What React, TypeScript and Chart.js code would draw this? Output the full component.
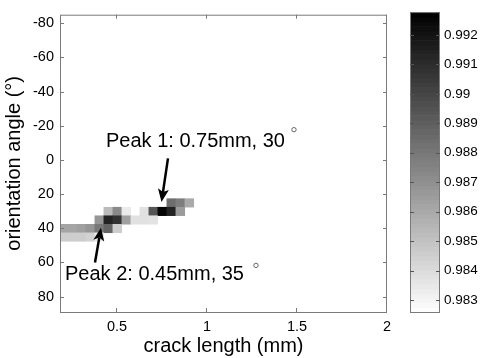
import React, { useEffect, useRef } from 'react';
import { Chart, registerables } from 'chart.js';

Chart.register(...registerables);

const FONT = '"Liberation Sans", Arial, Helvetica, sans-serif';

// Axis ticks
const xTicks = [0.5, 1, 1.5, 2];
const yTicks = [-80, -60, -40, -20, 0, 20, 40, 60, 80];
const cbTicks = [0.983, 0.984, 0.985, 0.986, 0.987, 0.988, 0.989, 0.99, 0.991, 0.992];

// Heat-map cells (crack length mm, orientation angle deg, value)
const cellLength = [
  0.8, 0.85, 0.9,
  0.45, 0.5, 0.55, 0.65, 0.7, 0.75, 0.8, 0.85,
  0.4, 0.45, 0.5, 0.55, 0.6, 0.65, 0.7,
  0.2, 0.25, 0.3, 0.35, 0.4, 0.45, 0.5,
  0.2, 0.25, 0.3, 0.35, 0.4,
];
const cellAngle = [
  25, 25, 25,
  30, 30, 30, 30, 30, 30, 30, 30,
  35, 35, 35, 35, 35, 35, 35,
  40, 40, 40, 40, 40, 40, 40,
  45, 45, 45, 45, 45,
];
const cellValue = [
  0.9884, 0.9878, 0.986,
  0.9853, 0.9873, 0.9834, 0.9838, 0.9894, 0.9926, 0.9914, 0.9866,
  0.9868, 0.9914, 0.9908, 0.9864, 0.9838, 0.9838, 0.9837,
  0.9862, 0.9862, 0.9864, 0.9868, 0.988, 0.9888, 0.9846,
  0.9846, 0.9846, 0.9846, 0.9844, 0.9834,
];

// Annotations
const peakLabels = ['Peak 1: 0.75mm, 30', 'Peak 2: 0.45mm, 35'];
const peakTextX = [0.4386, 0.2108];
const peakTextY = [-7.6, 70.2];
const peakDegX = [1.483, 1.272];
const peakDegY = [-17.7, 61.7];
const arrowTailX = [0.783, 0.3775];
const arrowTailY = [-0.9, 60.0];
const arrowHeadX = [0.747, 0.4108];
const arrowHeadY = [24.6, 39.7];

const X_MIN = 0.183;
const X_MAX = 2.0;
const Y_MIN = -85;
const Y_MAX = 89;
const CELL_W = 0.05;
const CELL_H = 5;
const C_MIN = 0.98259;
const C_MAX = 0.99278;
const AXIS_COLOR = '#7a7a7a';

function grayFor(v: number): string {
  let t = (C_MAX - v) / (C_MAX - C_MIN);
  t = Math.max(0, Math.min(1, t));
  const g = Math.round(255 * t);
  return `rgb(${g},${g},${g})`;
}

const heatmapPlugin = {
  id: 'heatmap',
  beforeDatasetsDraw(chart: any) {
    const { ctx, chartArea, scales } = chart;
    const x = scales.x;
    const y = scales.y;
    ctx.save();
    ctx.beginPath();
    ctx.rect(chartArea.left, chartArea.top, chartArea.right - chartArea.left, chartArea.bottom - chartArea.top);
    ctx.clip();
    for (let i = 0; i < cellValue.length; i++) {
      const x0 = x.getPixelForValue(cellLength[i] - CELL_W / 2);
      const x1 = x.getPixelForValue(cellLength[i] + CELL_W / 2);
      const y0 = y.getPixelForValue(cellAngle[i] - CELL_H / 2);
      const y1 = y.getPixelForValue(cellAngle[i] + CELL_H / 2);
      ctx.fillStyle = grayFor(cellValue[i]);
      ctx.fillRect(Math.min(x0, x1), Math.min(y0, y1), Math.abs(x1 - x0) + 0.5, Math.abs(y1 - y0) + 0.5);
    }
    ctx.restore();
  },
};

function drawArrow(ctx: CanvasRenderingContext2D, x0: number, y0: number, x1: number, y1: number) {
  const ang = Math.atan2(y1 - y0, x1 - x0);
  const headLen = 13;
  const headW = 5.5;
  const bx = x1 - headLen * Math.cos(ang);
  const by = y1 - headLen * Math.sin(ang);
  ctx.strokeStyle = '#000';
  ctx.fillStyle = '#000';
  ctx.lineWidth = 2.5;
  ctx.beginPath();
  ctx.moveTo(x0, y0);
  ctx.lineTo(bx + 3 * Math.cos(ang), by + 3 * Math.sin(ang));
  ctx.stroke();
  ctx.beginPath();
  ctx.moveTo(x1, y1);
  ctx.lineTo(bx + headW * Math.sin(ang), by - headW * Math.cos(ang));
  ctx.lineTo(bx + 3 * Math.cos(ang), by + 3 * Math.sin(ang));
  ctx.lineTo(bx - headW * Math.sin(ang), by + headW * Math.cos(ang));
  ctx.closePath();
  ctx.fill();
}

const framePlugin = {
  id: 'frame',
  afterDraw(chart: any) {
    const { ctx, chartArea, scales } = chart;
    const { left, right, top, bottom } = chartArea;
    const x = scales.x;
    const y = scales.y;
    ctx.save();
    ctx.strokeStyle = AXIS_COLOR;
    ctx.lineWidth = 1;
    ctx.strokeRect(left + 0.5, top + 0.5, right - left - 1, bottom - top);
    ctx.beginPath();
    for (const v of xTicks) {
      const p = Math.round(x.getPixelForValue(v)) - 0.5;
      ctx.moveTo(p, bottom);
      ctx.lineTo(p, bottom - 4);
      ctx.moveTo(p, top);
      ctx.lineTo(p, top + 4);
    }
    for (const v of yTicks) {
      const p = Math.round(y.getPixelForValue(v)) + 0.5;
      ctx.moveTo(left, p);
      ctx.lineTo(left + 4, p);
      ctx.moveTo(right, p);
      ctx.lineTo(right - 4, p);
    }
    ctx.stroke();

    // annotations
    ctx.font = `20px ${FONT}`;
    ctx.fillStyle = '#000';
    ctx.textBaseline = 'alphabetic';
    ctx.textAlign = 'left';
    for (let i = 0; i < peakLabels.length; i++) {
      ctx.fillStyle = '#000';
      ctx.fillText(peakLabels[i], x.getPixelForValue(peakTextX[i]), y.getPixelForValue(peakTextY[i]));
      ctx.beginPath();
      ctx.strokeStyle = '#666';
      ctx.lineWidth = 1;
      ctx.arc(x.getPixelForValue(peakDegX[i]), y.getPixelForValue(peakDegY[i]), 2.2, 0, Math.PI * 2);
      ctx.stroke();
      drawArrow(
        ctx,
        x.getPixelForValue(arrowTailX[i]),
        y.getPixelForValue(arrowTailY[i]),
        x.getPixelForValue(arrowHeadX[i]),
        y.getPixelForValue(arrowHeadY[i])
      );
    }
    ctx.restore();
  },
};

const colorbarPlugin = {
  id: 'colorbar',
  beforeDatasetsDraw(chart: any) {
    const { ctx, chartArea, scales } = chart;
    const { left, right } = chartArea;
    const y = scales.y;
    const yTop = y.getPixelForValue(C_MAX);
    const yBot = y.getPixelForValue(C_MIN);
    const n = 64;
    ctx.save();
    for (let i = 0; i < n; i++) {
      const v0 = C_MIN + ((C_MAX - C_MIN) * i) / n;
      const v1 = C_MIN + ((C_MAX - C_MIN) * (i + 1)) / n;
      const p0 = y.getPixelForValue(v0);
      const p1 = y.getPixelForValue(v1);
      const g = Math.round(255 * (1 - (i + 0.5) / n));
      ctx.fillStyle = `rgb(${g},${g},${g})`;
      ctx.fillRect(left, Math.min(p0, p1), right - left, Math.abs(p1 - p0) + 0.6);
    }
    ctx.strokeStyle = AXIS_COLOR;
    ctx.lineWidth = 1;
    ctx.strokeRect(left + 0.5, yTop + 0.5, right - left - 1, yBot - yTop);
    ctx.beginPath();
    for (const v of cbTicks) {
      const p = Math.round(y.getPixelForValue(v)) + 0.5;
      ctx.moveTo(left, p);
      ctx.lineTo(left + 4, p);
      ctx.moveTo(right, p);
      ctx.lineTo(right - 4, p);
    }
    ctx.strokeStyle = '#555';
    ctx.stroke();
    ctx.restore();
  },
};

export default function App() {
  const mainRef = useRef<HTMLCanvasElement | null>(null);
  const cbRef = useRef<HTMLCanvasElement | null>(null);

  useEffect(() => {
    if (!mainRef.current || !cbRef.current) return;
    const main = new Chart(mainRef.current, {
      type: 'scatter',
      data: { datasets: [] },
      plugins: [heatmapPlugin, framePlugin],
      options: {
        animation: false,
        responsive: false,
        devicePixelRatio: 1,
        layout: { padding: { left: 0, top: 12, right: 95, bottom: 0 } },
        plugins: { legend: { display: false }, tooltip: { enabled: false } },
        scales: {
          x: {
            type: 'linear',
            min: X_MIN,
            max: X_MAX,
            grid: { display: false, drawTicks: false },
            border: { display: false },
            afterBuildTicks: (s: any) => {
              s.ticks = xTicks.map((v) => ({ value: v }));
            },
            afterFit: (s: any) => {
              s.height = 46;
            },
            ticks: {
              padding: 6,
              color: '#000',
              font: { family: FONT, size: 14.5 },
              maxRotation: 0,
              autoSkip: false,
              callback: (v: any) => String(v),
            },
            title: {
              display: true,
              text: 'crack length (mm)',
              color: '#000',
              font: { family: FONT, size: 20 },
              padding: { top: 2, bottom: 0 },
            },
          },
          y: {
            type: 'linear',
            reverse: true,
            min: Y_MIN,
            max: Y_MAX,
            grid: { display: false, drawTicks: false },
            border: { display: false },
            afterBuildTicks: (s: any) => {
              s.ticks = yTicks.map((v) => ({ value: v }));
            },
            afterFit: (s: any) => {
              s.width = 60;
            },
            ticks: {
              padding: 6,
              color: '#000',
              font: { family: FONT, size: 14.5 },
              autoSkip: false,
              callback: (v: any) => String(v),
            },
            title: {
              display: true,
              text: 'orientation angle (°)',
              color: '#000',
              font: { family: FONT, size: 20 },
              padding: { top: 2, bottom: 0 },
            },
          },
        },
      },
    } as any);

    const cb = new Chart(cbRef.current, {
      type: 'scatter',
      data: { datasets: [] },
      plugins: [colorbarPlugin],
      options: {
        animation: false,
        responsive: false,
        devicePixelRatio: 1,
        layout: { padding: { left: 410, top: 12, right: 0, bottom: 46 } },
        plugins: { legend: { display: false }, tooltip: { enabled: false } },
        scales: {
          x: { type: 'linear', display: false, min: 0, max: 1 },
          y: {
            type: 'linear',
            position: 'right',
            min: C_MIN,
            max: C_MAX,
            grid: { display: false, drawTicks: false },
            border: { display: false },
            afterBuildTicks: (s: any) => {
              s.ticks = cbTicks.map((v) => ({ value: v }));
            },
            afterFit: (s: any) => {
              s.width = 42;
            },
            ticks: {
              padding: 4,
              color: '#000',
              font: { family: FONT, size: 13.5 },
              autoSkip: false,
              callback: (v: any) => String(Number(Number(v).toFixed(3))),
            },
          },
        },
      },
    } as any);

    return () => {
      main.destroy();
      cb.destroy();
    };
  }, []);

  const canvasStyle: React.CSSProperties = { position: 'absolute', left: 0, top: 0, width: 482, height: 358 };
  return (
    <div style={{ position: 'absolute', left: 0, top: 0, width: 482, height: 358, background: '#fff' }}>
      <canvas ref={mainRef} width={482} height={358} style={canvasStyle} />
      <canvas ref={cbRef} width={482} height={358} style={canvasStyle} />
    </div>
  );
}
